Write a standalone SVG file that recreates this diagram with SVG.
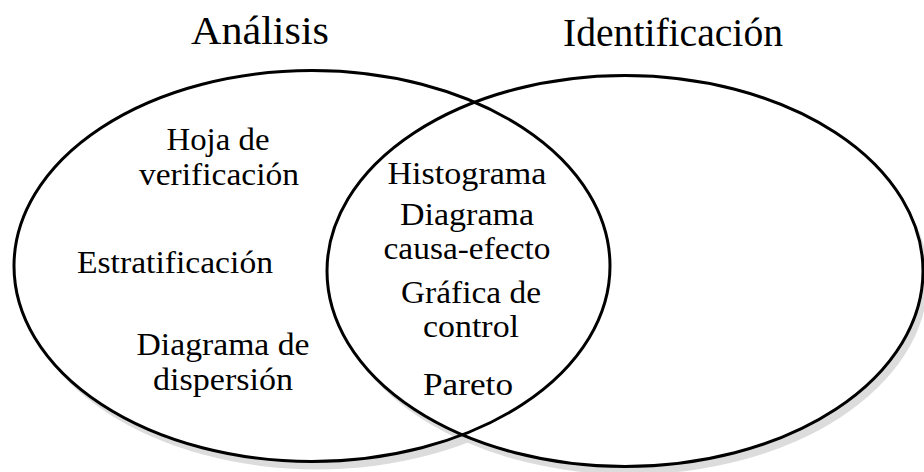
<svg xmlns="http://www.w3.org/2000/svg" width="924" height="472" viewBox="0 0 924 472">
<style>
.sh{fill:#dcdcdd;stroke:none}
.fl{fill:#ffffff;stroke:none}
.st{fill:none;stroke:#000;stroke-width:3}
.t{font-family:"Liberation Serif","Times New Roman",serif;font-size:31px;fill:#000;text-anchor:middle}
.h{font-size:40px}
</style>
<g id="shapes">
<ellipse class="sh" cx="317" cy="274" rx="298" ry="195.5"/>
<ellipse class="fl" cx="312" cy="266" rx="298" ry="195.5"/>
<ellipse class="sh" cx="630" cy="279" rx="298" ry="195.5"/>
<ellipse class="fl" cx="625" cy="271" rx="298" ry="195.5"/>
</g>
<g id="analisis">
<ellipse class="st" cx="312" cy="266" rx="298" ry="195.5"/>
<text class="t h" x="260" y="44" textLength="138" lengthAdjust="spacingAndGlyphs">Análisis</text>
<text class="t" x="218" y="150" textLength="103" lengthAdjust="spacingAndGlyphs">Hoja de</text>
<text class="t" x="219" y="185" textLength="160" lengthAdjust="spacingAndGlyphs">verificación</text>
<text class="t" x="175" y="273" textLength="196" lengthAdjust="spacingAndGlyphs">Estratificación</text>
<text class="t" x="223" y="355" textLength="173" lengthAdjust="spacingAndGlyphs">Diagrama de</text>
<text class="t" x="223" y="390" textLength="140" lengthAdjust="spacingAndGlyphs">dispersión</text>
</g>
<g id="identificacion">
<ellipse class="st" cx="625" cy="271" rx="298" ry="195.5"/>
<text class="t h" x="673" y="46" textLength="220" lengthAdjust="spacingAndGlyphs">Identificación</text>
</g>
<g id="interseccion">
<text class="t" x="467" y="184" textLength="159" lengthAdjust="spacingAndGlyphs">Histograma</text>
<text class="t" x="467" y="225" textLength="134" lengthAdjust="spacingAndGlyphs">Diagrama</text>
<text class="t" x="467" y="259" textLength="167" lengthAdjust="spacingAndGlyphs">causa-efecto</text>
<text class="t" x="471" y="303" textLength="140" lengthAdjust="spacingAndGlyphs">Gráfica de</text>
<text class="t" x="471" y="337" textLength="96" lengthAdjust="spacingAndGlyphs">control</text>
<text class="t" x="468" y="395" textLength="90" lengthAdjust="spacingAndGlyphs">Pareto</text>
</g>
</svg>
